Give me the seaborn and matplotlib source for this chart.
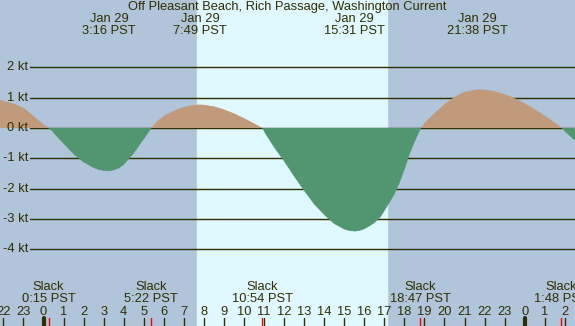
import numpy as np
import pandas as pd
import seaborn as sns
import matplotlib
matplotlib.use('Agg')
import matplotlib.pyplot as plt

# current speed (kt), hours since midnight Jan 29
hours = [-2.17, -2.0, -1.5, -1.0, -0.5, 0.0, 0.25, 0.5, 1.0, 1.5, 2.0, 2.5, 2.75, 3.0, 3.25,
         3.5, 3.75, 4.0, 4.5, 5.0, 5.37, 5.5, 5.75, 6.0, 6.5, 7.0, 7.5, 7.82, 8.0, 8.5, 9.0, 9.5,
         10.0, 10.5, 10.9, 11.0, 11.5, 12.0, 12.5, 12.94, 13.5, 14.0, 14.5, 15.0, 15.25, 15.52,
         15.75, 16.0, 16.25, 16.5, 16.78, 17.0, 17.25, 17.5, 17.75, 18.0, 18.25, 18.5, 18.81,
         19.0, 19.5, 20.0, 20.5, 21.0, 21.65, 22.0, 22.5, 23.0, 23.37, 23.5, 24.0, 24.5, 25.0,
         25.5, 25.85, 26.0, 26.51]
speed = [0.92, 0.88, 0.79, 0.65, 0.38, 0.10, 0.0, -0.15, -0.5, -0.85, -1.12, -1.3, -1.37, -1.4, -1.41,
         -1.38, -1.32, -1.2, -0.82, -0.35, 0.0, 0.09, 0.25, 0.38, 0.56, 0.68, 0.75, 0.76, 0.75, 0.7, 0.6, 0.47,
         0.31, 0.14, 0.0, -0.1, -0.62, -1.08, -1.58, -2.0, -2.5, -2.85, -3.15, -3.33, -3.38, -3.4,
         -3.38, -3.32, -3.23, -3.12, -2.95, -2.72, -2.45, -2.17, -1.8, -1.35, -0.85, -0.45, 0.0,
         0.14, 0.47, 0.77, 1.01, 1.18, 1.26, 1.25, 1.2, 1.1, 1.01, 0.97, 0.8, 0.61, 0.39,
         0.16, 0.0, -0.1, -0.4]

# events
top_times = [3.27, 7.82, 15.52, 21.63]
top_labels = ["3:16 PST", "7:49 PST", "15:31 PST", "21:38 PST"]
slack_times = [0.25, 5.37, 10.9, 18.78, 25.8]
slack_labels = ["0:15 PST", "5:22 PST", "10:54 PST", "18:47 PST", "1:48 PST"]
sunrise, sunset = 7.65, 17.15

kt_levels = [2, 1, 0, -1, -2, -3, -4]
hour_ticks = list(range(-2, 27))
hour_labels = [str(h % 24) for h in hour_ticks]

night = "#b0c4da"
day = "#e0f8ff"
flood = "#c09a7a"
ebb = "#50966f"
ink = "#2f2f00"
fs = 9.3

df = pd.DataFrame({"hour": hours, "speed": speed})

sns.set_style("white")
plt.rcParams['font.family'] = ['Liberation Sans', 'DejaVu Sans']

fig = plt.figure(figsize=(5.75, 3.26), dpi=100)
ax = fig.add_axes([0, 0, 1, 1])
x0, x1 = -2.17, 26.51
ytop, ybot = 4.22, -6.53
px = 30.3  # pixels per kt
ax.set_xlim(x0, x1)
ax.set_ylim(ybot, ytop)
ax.set_facecolor(night)
ax.axvspan(sunrise, sunset, color=day, zorder=0)

# kt grid lines, starting right of the labels
for k in kt_levels:
    ax.plot([x0 + 1.5, x1], [k, k], color=ink, lw=1, zorder=1)
    ax.text(x0 + 1.4, k, f"{k} kt", ha="right", va="center", fontsize=fs, color=ink)

ax.fill_between(df["hour"], df["speed"], 0, where=df["speed"] >= 0,
                interpolate=True, color=flood, lw=0, zorder=2)
ax.fill_between(df["hour"], df["speed"], 0, where=df["speed"] <= 0,
                interpolate=True, color=ebb, lw=0, zorder=2)

# outline of the curve, split into flood / ebb pieces
seg = (np.sign(df["speed"]).replace(0, np.nan).ffill().bfill().diff().fillna(0) != 0).cumsum()
for _, part in df.groupby(seg):
    colour = flood if part["speed"].mean() > 0 else ebb
    sns.lineplot(data=part, x="hour", y="speed", ax=ax, color=colour, lw=0.5, zorder=3)

fig.text(0.5, 1 - 7 / 326, "Off Pleasant Beach, Rich Passage, Washington Current",
         ha="center", va="center", fontsize=fs, color=ink)
for t, lab in zip(top_times, top_labels):
    ax.text(t, ytop - 19 / px, "Jan 29", ha="center", va="center", fontsize=fs, color=ink)
    ax.text(t, ytop - 31 / px, lab, ha="center", va="center", fontsize=fs, color=ink)

for t, lab in zip(slack_times, slack_labels):
    ax.text(t, ybot + 39 / px, "Slack", ha="center", va="center", fontsize=fs, color=ink)
    ax.text(t, ybot + 27 / px, lab, ha="center", va="center", fontsize=fs, color=ink)
    ax.plot([t, t], [ybot, ybot + 8 / px], color="red", lw=1, zorder=4)

for h, lab in zip(hour_ticks, hour_labels):
    ax.text(h, ybot + 14 / px, lab, ha="center", va="center", fontsize=fs, color=ink)
    ax.plot([h, h], [ybot, ybot + 8 / px], color=ink, lw=3 if h % 24 == 0 else 1, zorder=4)

ax.set_xticks([])
ax.set_yticks([])
ax.set_xlabel("")
ax.set_ylabel("")
for s in ax.spines.values():
    s.set_visible(False)

fig.savefig("out.png", dpi=100)
